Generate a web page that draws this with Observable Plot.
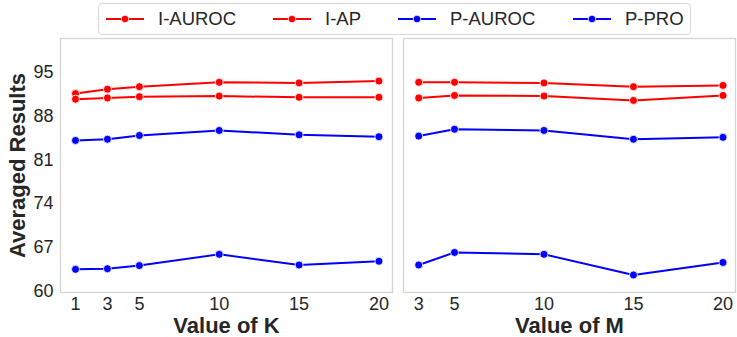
<!DOCTYPE html>
<html>
<head>
<meta charset="utf-8">
<script src="https://cdn.jsdelivr.net/npm/d3@7"></script>
<script src="https://cdn.jsdelivr.net/npm/@observablehq/plot@0.6"></script>
<style>
  html, body { margin: 0; padding: 0; background: #fff; }
  #chart { position: relative; width: 737px; height: 337px; overflow: hidden;
           font-family: "Liberation Sans", Arial, sans-serif; color: #262626; }
  #chart > svg { position: absolute; top: 0; font-family: "Liberation Sans", Arial, sans-serif; }
  #legend { position: absolute; left: 98px; top: 3px; width: 591px; height: 30px;
            border: 1px solid #d9d9d9; border-radius: 4px; background: rgba(255,255,255,0.85);
            font-size: 18.5px; color: #262626; z-index: 2; }
  #legend .item { position: absolute; top: 0; height: 30px; display: flex; align-items: center;
                  white-space: nowrap; }
  #legend svg { position: static; display: block; flex: none; }
</style>
</head>
<body>
<div id="chart"><div id="legend"></div></div>
<script>
// ---- data ----
const seriesNames = ["I-AUROC", "I-AP", "P-AUROC", "P-PRO"];
const seriesColors = ["#ff0000", "#ff0000", "#0000ff", "#0000ff"];
const yTicks = [60, 67, 74, 81, 88, 95];

const kValues = [1, 3, 5, 10, 15, 20];
const kIAUROC = [91.6, 92.3, 92.7, 93.4, 93.3, 93.6];
const kIAP    = [90.7, 90.9, 91.1, 91.2, 91.0, 91.0];
const kPAUROC = [84.1, 84.3, 84.9, 85.7, 85.0, 84.7];
const kPPRO   = [63.5, 63.6, 64.1, 65.9, 64.2, 64.8];

const mValues = [3, 5, 10, 15, 20];
const mIAUROC = [93.4, 93.4, 93.3, 92.7, 92.9];
const mIAP    = [90.9, 91.3, 91.2, 90.5, 91.3];
const mPAUROC = [84.8, 85.9, 85.7, 84.3, 84.6];
const mPPRO   = [64.2, 66.2, 65.9, 62.6, 64.6];

function table(xs, lists) {
  const rows = [];
  lists.forEach((vals, i) => vals.forEach((v, j) => rows.push({x: xs[j], y: v, series: seriesNames[i]})));
  return rows;
}
const kData = table(kValues, [kIAUROC, kIAP, kPAUROC, kPPRO]);
const mData = table(mValues, [mIAUROC, mIAP, mPAUROC, mPPRO]);

const yDomain = [59.8, 100.4];
const frameColor = "#d4d4d4";
const textColor = "#262626";

function panel({data, xs, xDomain, width, marginLeft, marginRight, xLabel, showY}) {
  const marks = [
    Plot.frame({stroke: frameColor, strokeWidth: 1.3}),
    Plot.axisX({ticks: xs, tickFormat: d => String(d), tickSize: 0, tickPadding: 5,
                fontSize: 18, label: null, color: textColor}),
    Plot.line(data, {x: "x", y: "y", z: "series", stroke: "series", strokeWidth: 2}),
    Plot.dot(data, {x: "x", y: "y", fill: "series", stroke: "white", strokeWidth: 0.8, r: 4}),
    Plot.text([xLabel], {frameAnchor: "bottom", dy: 33, lineAnchor: "middle", textAnchor: "middle",
                         fontSize: 22, fontWeight: "bold", fill: textColor})
  ];
  if (showY) {
    marks.push(Plot.axisY({ticks: yTicks, tickSize: 0, tickPadding: 7, fontSize: 18,
                           label: null, color: textColor}));
    marks.push(Plot.text(["Averaged Results"], {frameAnchor: "left", dx: -43, rotate: -90,
                          textAnchor: "middle", lineAnchor: "middle",
                          fontSize: 22, fontWeight: "bold", fill: textColor}));
  } else {
    marks.push(Plot.axisY({ticks: [], label: null}));
  }
  return Plot.plot({
    width, height: 337,
    marginLeft, marginRight, marginTop: 38, marginBottom: 45,
    x: {domain: xDomain},
    y: {domain: yDomain},
    color: {domain: seriesNames, range: seriesColors},
    style: {fontFamily: "Liberation Sans, Arial, sans-serif", background: "transparent", overflow: "visible"},
    marks
  });
}

const chart = document.getElementById("chart");
const left = panel({data: kData, xs: kValues, xDomain: [0.06, 20.85], width: 400,
                   marginLeft: 60, marginRight: 8, xLabel: "Value of K", showY: true});
left.style.left = "0px";
chart.appendChild(left);
const right = panel({data: mData, xs: mValues, xDomain: [2.15, 20.7], width: 342,
                    marginLeft: 8, marginRight: 2, xLabel: "Value of M", showY: false});
right.style.left = "395px";
chart.appendChild(right);

// legend
const legend = document.getElementById("legend");
const itemLeft = [7, 174, 299, 474];
seriesNames.forEach((name, i) => {
  const item = document.createElement("div");
  item.className = "item";
  item.style.left = itemLeft[i] + "px";
  item.innerHTML = `<svg width="38" height="12"><line x1="0" x2="38" y1="6" y2="6" stroke="${seriesColors[i]}" stroke-width="2"/>` +
    `<circle cx="19" cy="6" r="3.8" fill="${seriesColors[i]}" stroke="white" stroke-width="0.8"/></svg>` +
    `<span style="margin-left:14px">${name}</span>`;
  legend.appendChild(item);
});
</script>
</body>
</html>
